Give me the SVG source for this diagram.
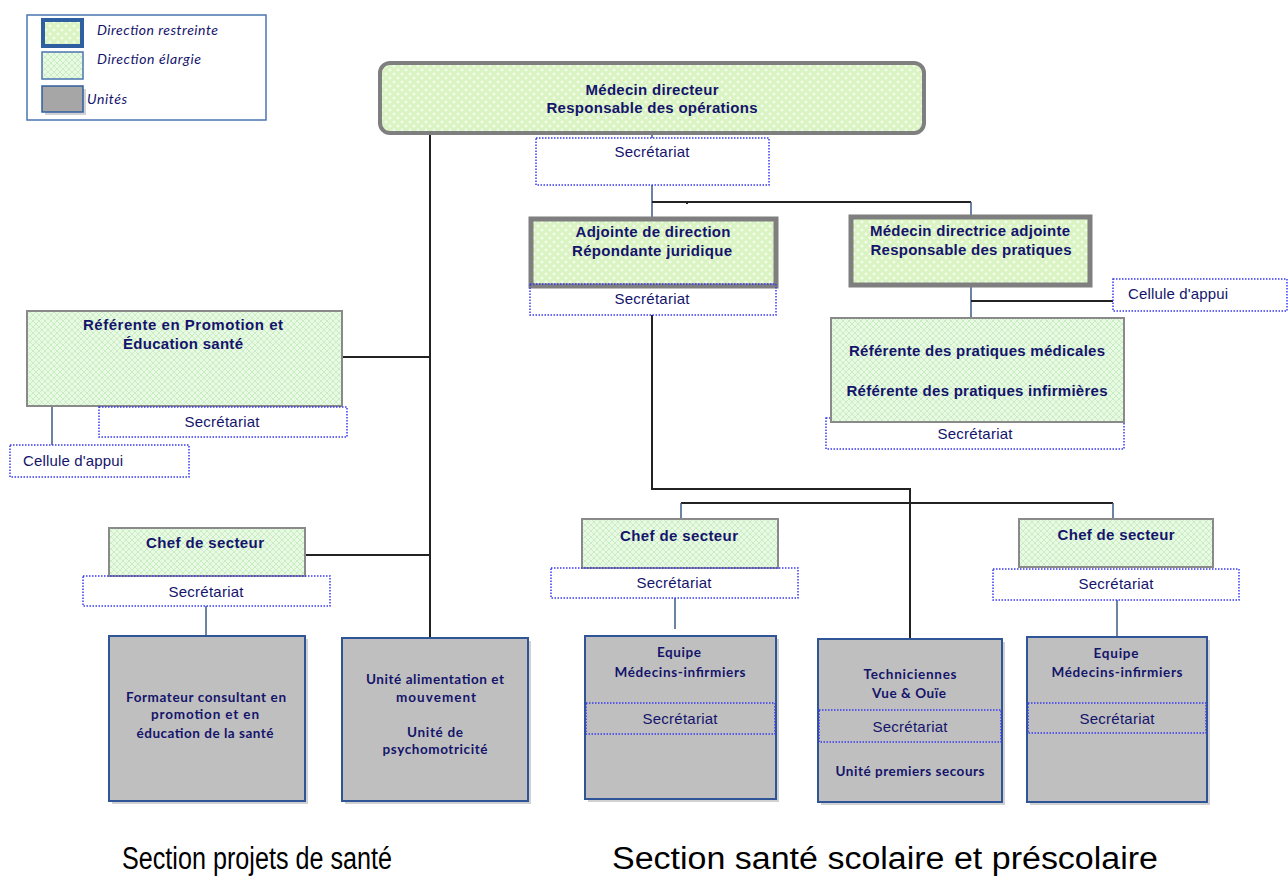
<svg xmlns="http://www.w3.org/2000/svg" width="1288" height="878" viewBox="0 0 1288 878">
<defs>
<pattern id="pR" width="8" height="8" patternUnits="userSpaceOnUse">
<rect width="8" height="8" fill="#d9f3c2"/>
<path d="M2 0.5v3M0.5 2h3M6 4.5v3M4.5 6h3" stroke="#ffffff" stroke-width="0.9"/>
</pattern>
<pattern id="pE" width="6" height="6" patternUnits="userSpaceOnUse">
<rect width="6" height="6" fill="#e8f9e4"/>
<path d="M0 0L6 6M6 0L0 6" stroke="#c6ecc0" stroke-width="0.9"/>
</pattern>
<style>
.b{font-family:"Liberation Sans",Arial,sans-serif;font-weight:bold;font-size:15px;fill:#14146b;text-anchor:middle}
.s{font-family:"Liberation Sans",Arial,sans-serif;font-size:15px;fill:#14146b;text-anchor:middle}
.c{font-family:"Liberation Sans",Arial,sans-serif;font-size:15px;fill:#14146b}
.u{font-family:Lato,"Open Sans",sans-serif;font-weight:bold;font-size:13.5px;fill:#14146b;text-anchor:middle}
.lg{font-family:Lato,"Open Sans",sans-serif;font-style:italic;font-size:14px;fill:#14146b}
.sec{font-family:"Liberation Sans",Arial,sans-serif;font-size:31px;fill:#000000}
.restr{fill:url(#pR);stroke:#7f7f7f;stroke-width:5}
.elarg{fill:url(#pE);stroke:#8a8a8a;stroke-width:2}
.unit{fill:#bfbfbf;stroke:#2f5597;stroke-width:2}
.shadow{fill:#000;opacity:0.18}
.dot{fill:#ffffff;stroke:#3a3af0;stroke-width:1.5;stroke-dasharray:1.5 1.5}
.dotn{fill:none;stroke:#3a3af0;stroke-width:1.5;stroke-dasharray:1.5 1.5}
.k{fill:none;stroke:#222222;stroke-width:2}
.n{fill:none;stroke:#3d5a85;stroke-width:1.5}
</style>
</defs>
<rect width="1288" height="878" fill="#ffffff"/>

<g id="legend">
<rect x="27" y="15" width="239" height="105" fill="#ffffff" stroke="#4a76b0" stroke-width="1.5"/>
<rect x="43" y="20" width="39" height="26" fill="url(#pR)" stroke="#2e5fa0" stroke-width="4"/>
<text class="lg" x="97" y="35" textLength="121">Direction restreinte</text>
<rect x="42" y="52" width="41" height="27" fill="url(#pE)" stroke="#4a76b0" stroke-width="1.5"/>
<text class="lg" x="97" y="64" textLength="104">Direction élargie</text>
<rect x="45" y="89" width="41" height="26" class="shadow"/>
<rect x="42" y="86" width="41" height="26" fill="#a6a6a6" stroke="#2e5fa0" stroke-width="1.5"/>
<text class="lg" x="87" y="104" textLength="40">Unités</text>
</g>

<g id="connectors">
<line class="k" x1="430" y1="134" x2="430" y2="637"/>
<line class="k" x1="342" y1="357" x2="430" y2="357"/>
<line class="k" x1="305" y1="555" x2="430" y2="555"/>
<line class="n" x1="652" y1="134" x2="652" y2="218"/>
<polyline class="k" points="652,202 971,202"/>
<line class="k" x1="687" y1="201" x2="687" y2="204" stroke-width="1"/>
<line class="n" x1="971" y1="202" x2="971" y2="215"/>
<line class="n" x1="971" y1="287" x2="971" y2="318"/>
<line class="k" x1="971" y1="301" x2="1113" y2="301"/>
<polyline class="k" points="652,315 652,489 910,489 910,639"/>
<polyline class="k" points="681,503 1113,503"/>
<line class="n" x1="681" y1="503" x2="681" y2="519"/>
<line class="n" x1="1113" y1="503" x2="1113" y2="519"/>
<line class="n" x1="52" y1="406" x2="52" y2="445"/>
<line class="n" x1="206" y1="606" x2="206" y2="636"/>
<line class="n" x1="675" y1="598" x2="675" y2="629"/>
<line class="n" x1="1117" y1="600" x2="1117" y2="637"/>
</g>

<g id="n-directeur">
<rect x="380" y="63" width="544" height="70" rx="10" fill="url(#pR)" stroke="#7f7f7f" stroke-width="4"/>
<text class="b" x="652" y="95" textLength="133">Médecin directeur</text>
<text class="b" x="652" y="113" textLength="211">Responsable des opérations</text>
</g>
<g id="n-sec-directeur">
<rect class="dot" x="536" y="138" width="233" height="47"/>
<text class="s" x="652" y="157" textLength="75">Secrétariat</text>
</g>

<g id="n-adjointe">
<rect class="restr" x="531" y="219" width="245" height="67"/>
<text class="b" x="653" y="237" textLength="155">Adjointe de direction</text>
<text class="b" x="652" y="256" textLength="160">Répondante juridique</text>
</g>
<g id="n-sec-adjointe">
<rect class="dotn" x="530" y="284" width="246" height="31"/>
<text class="s" x="652" y="304" textLength="75">Secrétariat</text>
</g>

<g id="n-directrice">
<rect class="restr" x="851" y="217" width="239" height="68"/>
<text class="b" x="970" y="236" textLength="200">Médecin directrice adjointe</text>
<text class="b" x="971" y="255" textLength="201">Responsable des pratiques</text>
</g>
<g id="n-cellule-droite">
<rect class="dot" x="1113" y="279" width="174" height="32"/>
<text class="c" x="1128" y="299" textLength="100">Cellule  d'appui</text>
</g>

<g id="n-sec-pratiques">
<rect class="dot" x="826" y="418" width="298" height="31"/>
<text class="s" x="975" y="439" textLength="75">Secrétariat</text>
</g>
<g id="n-pratiques">
<rect class="elarg" x="831" y="318" width="293" height="104"/>
<text class="b" x="977" y="356" textLength="256">Référente des pratiques médicales</text>
<text class="b" x="977" y="396" textLength="261">Référente des pratiques infirmières</text>
</g>

<g id="n-promotion">
<rect class="elarg" x="27" y="311" width="315" height="95"/>
<text class="b" x="183" y="330" textLength="200">Référente en Promotion  et</text>
<text class="b" x="183" y="349" textLength="120">Éducation santé</text>
</g>
<g id="n-sec-promotion">
<rect class="dot" x="99" y="407" width="248" height="30"/>
<text class="s" x="222" y="427" textLength="75">Secrétariat</text>
</g>
<g id="n-cellule-gauche">
<rect class="dot" x="10" y="445" width="179" height="32"/>
<text class="c" x="23" y="466" textLength="100">Cellule  d'appui</text>
</g>

<g id="n-chef-gauche">
<rect class="elarg" x="109" y="528" width="196" height="48"/>
<text class="b" x="205" y="548" textLength="118">Chef de secteur</text>
</g>
<g id="n-sec-chef-gauche">
<rect class="dotn" x="83" y="576" width="247" height="30"/>
<text class="s" x="206" y="597" textLength="75">Secrétariat</text>
</g>

<g id="n-formateur">
<rect class="shadow" x="112" y="639" width="196" height="165"/>
<rect class="unit" x="109" y="636" width="196" height="165"/>
<text class="u" x="206" y="702" textLength="160">Formateur consultant en</text>
<text class="u" x="205" y="719" textLength="108">promotion  et en</text>
<text class="u" x="205" y="738" textLength="137">éducation de la santé</text>
</g>

<g id="n-alimentation">
<rect class="shadow" x="345" y="641" width="186" height="163"/>
<rect class="unit" x="342" y="638" width="186" height="163"/>
<text class="u" x="435" y="684" textLength="138">Unité alimentation et</text>
<text class="u" x="436" y="702" textLength="80">mouvement</text>
<text class="u" x="435" y="737" textLength="56">Unité de</text>
<text class="u" x="435" y="754" textLength="105">psychomotricité</text>
</g>

<g id="n-chef-milieu">
<rect class="elarg" x="582" y="519" width="196" height="49"/>
<text class="b" x="679" y="541" textLength="118">Chef de secteur</text>
</g>
<g id="n-sec-chef-milieu">
<rect class="dotn" x="551" y="568" width="247" height="30"/>
<text class="s" x="674" y="588" textLength="75">Secrétariat</text>
</g>

<g id="n-equipe-milieu">
<rect class="shadow" x="588" y="639" width="191" height="163"/>
<rect class="unit" x="585" y="636" width="191" height="163"/>
<text class="u" x="679" y="657" textLength="44">Equipe</text>
<text class="u" x="680" y="677" textLength="131">Médecins-infirmiers</text>
<rect class="dotn" x="586" y="703" width="189" height="31"/>
<text class="s" x="680" y="724" textLength="75">Secrétariat</text>
</g>

<g id="n-techniciennes">
<rect class="shadow" x="821" y="642" width="184" height="163"/>
<rect class="unit" x="818" y="639" width="184" height="163"/>
<text class="u" x="910" y="679" textLength="93">Techniciennes</text>
<text class="u" x="909" y="698" textLength="74">Vue &amp; Ouïe</text>
<rect class="dotn" x="819" y="710" width="182" height="32"/>
<text class="s" x="910" y="732" textLength="75">Secrétariat</text>
<text class="u" x="910" y="776" textLength="149">Unité premiers secours</text>
</g>

<g id="n-chef-droite">
<rect class="elarg" x="1019" y="519" width="194" height="48"/>
<text class="b" x="1116" y="540" textLength="117">Chef de secteur</text>
</g>
<g id="n-sec-chef-droite">
<rect class="dotn" x="993" y="569" width="246" height="31"/>
<text class="s" x="1116" y="589" textLength="75">Secrétariat</text>
</g>

<g id="n-equipe-droite">
<rect class="shadow" x="1030" y="640" width="180" height="165"/>
<rect class="unit" x="1027" y="637" width="180" height="165"/>
<text class="u" x="1116" y="658" textLength="45">Equipe</text>
<text class="u" x="1117" y="677" textLength="131">Médecins-infirmiers</text>
<rect class="dotn" x="1028" y="703" width="178" height="30"/>
<text class="s" x="1117" y="724" textLength="75">Secrétariat</text>
</g>

<g id="sections">
<text class="sec" x="122" y="869" textLength="270" lengthAdjust="spacingAndGlyphs">Section projets de santé</text>
<text class="sec" x="612" y="869" textLength="546" lengthAdjust="spacingAndGlyphs">Section santé scolaire et préscolaire</text>
</g>
</svg>
